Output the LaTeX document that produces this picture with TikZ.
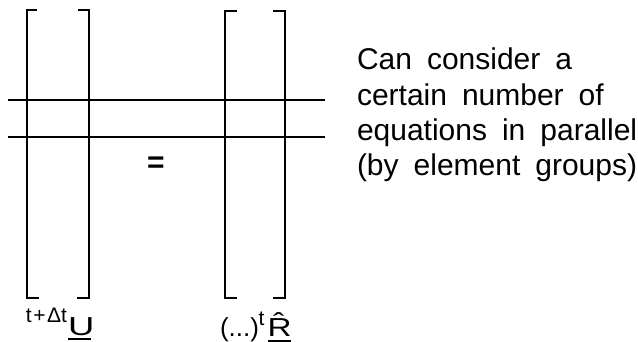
\documentclass[tikz,border=0pt]{standalone}
\usepackage{graphicx}
\usepackage{fontspec}
\setmainfont{Liberation Sans}[WordSpace=1.8]
\begin{document}
\begin{tikzpicture}[x=1pt,y=-1pt, line width=2pt, line cap=butt,
  txt/.style={inner sep=0pt, anchor=base west, font=\fontsize{30}{35}\selectfont},
  big/.style={inner sep=0pt, anchor=base west, font=\fontsize{26}{30}\selectfont},
  small/.style={inner sep=0pt, anchor=base west, font=\fontsize{21}{23}\selectfont}]
\useasboundingbox (0,0) rectangle (638,342);
% brackets of the left matrix
\draw (37,10) -- (27,10) -- (27,298) -- (39,298);
\draw (78,10) -- (89,10) -- (89,298) -- (77,298);
% brackets of the right matrix
\draw (237,11) -- (225,11) -- (225,298) -- (237,298);
\draw (273,11) -- (285,11) -- (285,298) -- (273,298);
% rows
\draw (8,100) -- (325,100);
\draw (8,137) -- (325,137);
% equals sign
\node[inner sep=0pt, anchor=base, font=\fontsize{30}{32}\selectfont\bfseries] (eq) at (156,173) {=};
% labels
\node[small] (usup) at (25,322) {t\hspace{1.5pt}+\hspace{1.5pt}Δt};
\node[big] (u) at (67,335) {\scalebox{1.4}[1]{U}};
\draw (68,339) -- (91,339);
\node[big, font=\fontsize{26}{28}\selectfont] (dots) at (219,336) {(...)};
\node[small] (rsup) at (257.5,325) {t};
\node[big] (r) at (266.5,336) {\scalebox{1.28}[1]{\^{R}}};
\draw (268,340.5) -- (291,340.5);
% text
\node[txt] (l1) at (356,70) {Can consider a};
\node[txt] (l2) at (356,106) {certain number of};
\node[txt] (l3) at (356,141) {equations in parallel};
\node[txt] (l4) at (356,176) {(by element groups)};
\end{tikzpicture}
\end{document}
